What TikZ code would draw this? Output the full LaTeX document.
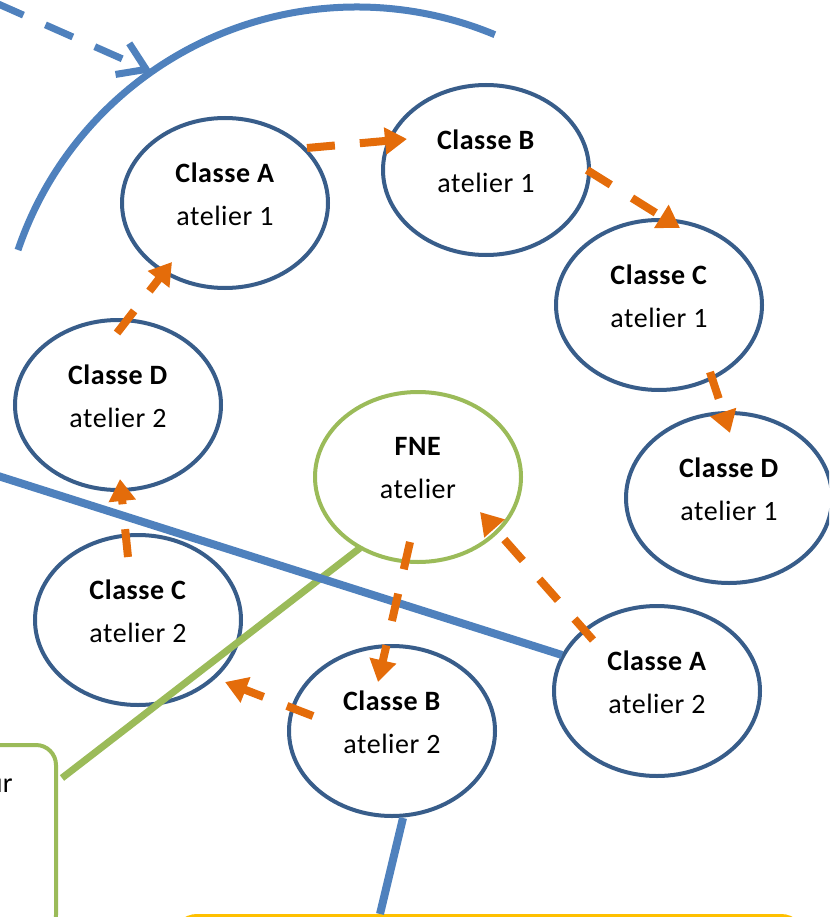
\documentclass[tikz,border=0pt]{standalone}
\usepackage{fontspec}
\setmainfont{Carlito}[LetterSpace=2]
\usetikzlibrary{arrows.meta,shapes.geometric,calc}
\definecolor{ellblue}{HTML}{385D8A}
\definecolor{lineblue}{HTML}{4F81BD}
\definecolor{fgreen}{HTML}{9BBB59}
\definecolor{oarr}{HTML}{E46C0A}
\definecolor{yframe}{HTML}{FFC000}
\tikzset{
  ell/.style={ellipse, draw=ellblue, line width=4pt, minimum width=206pt, minimum height=170pt, inner sep=0pt},
  gell/.style={ell, draw=fgreen},
  lbl/.style={align=center, font=\fontsize{28}{43}\selectfont, inner sep=0pt},
  oarrow/.style={draw=oarr, line width=8pt, dash pattern=on 28pt off 25pt, -{Triangle[length=22pt,width=26pt]}},
  bline/.style={draw=lineblue, line width=8pt},
  gline/.style={draw=fgreen, line width=7pt},
  barrow/.style={draw=lineblue, line width=7pt, dash pattern=on 30pt off 24pt, -{Straight Barb[length=26pt,width=34pt]}},
}
\newcommand\mkell[6][ell]{%
  \node[#1] (#2) at (#3,#4) {};
  \node[lbl] (#2t) at ($(#2)+(0,-9)$) {\textbf{#5}\\#6};
}
\begin{document}
\begin{tikzpicture}[x=1pt,y=-1pt]
\useasboundingbox (0,0) rectangle (829,917);
\clip (0,0) rectangle (829,917);
% boxes
\node[draw=fgreen, line width=4pt, rounded corners=20pt, minimum width=130pt, minimum height=190pt, anchor=north east] (gbox) at (58,743) {};
\node[font=\fontsize{28}{34}\selectfont, anchor=base east, inner sep=0pt] (gtxt) at (13,792) {ur};
\node[draw=yframe, line width=6pt, rounded corners=22pt, minimum width=628pt, minimum height=80pt, anchor=north west] (ybox) at (172,914) {};
% ellipses
\mkell{a1}{225}{203}{Classe A}{atelier 1}
\mkell{b1}{486}{170}{Classe B}{atelier 1}
\mkell{c1}{659}{305}{Classe C}{atelier 1}
\mkell{d1}{729}{498}{Classe D}{atelier 1}
\mkell{d2}{118}{405}{Classe D}{atelier 2}
\mkell[gell]{fne}{418}{477}{FNE}{atelier}
\mkell{c2}{138}{620}{Classe C}{atelier 2}
\mkell{b2}{392}{731}{Classe B}{atelier 2}
\mkell{a2}{657}{691}{Classe A}{atelier 2}
% top arc and dashed blue arrow
\draw[draw=lineblue, line width=7pt] (18,250) arc[start angle=161.3, end angle=67.3, radius=357.7pt];
\coordinate (bd0) at (-4,3);
\coordinate (bd1) at (152,72);
\draw[barrow] (bd0) -- (bd1);
% green and blue lines
\draw[gline] ($(fne)+(-58,71)$) -- ($(gbox.north east)+(4,35)$);
\coordinate (bl0) at (-5,475);
\draw[bline] (bl0) -- ($(a2)+(-95,-36)$);
\draw[bline] ($(b2)+(11,87)$) -- ($(ybox.north west)+(208,0)$);
% orange arrows
\draw[oarrow] ($(d2)+(-1,-72)$) -- ($(a1)+(-53,59)$);
\draw[oarrow] ($(c2)+(-10,-63)$) -- ($(d2)+(2,74)$);
\draw[oarrow] ($(a1)+(82,-55)$) -- ($(b1)+(-79,-31)$);
\draw[oarrow] ($(b1)+(101,0)$) -- ($(c1)+(21,-77)$);
\draw[oarrow] ($(c1)+(51,67)$) -- ($(d1)+(1,-65)$);
\draw[oarrow] ($(a2)+(-64,-51)$) -- ($(fne)+(62,35)$);
\draw[oarrow] ($(fne)+(-8,65)$) -- ($(b2)+(-14,-49)$);
\draw[oarrow] ($(b2)+(-79,-15)$) -- ($(c2)+(87,62)$);
\end{tikzpicture}
\end{document}
